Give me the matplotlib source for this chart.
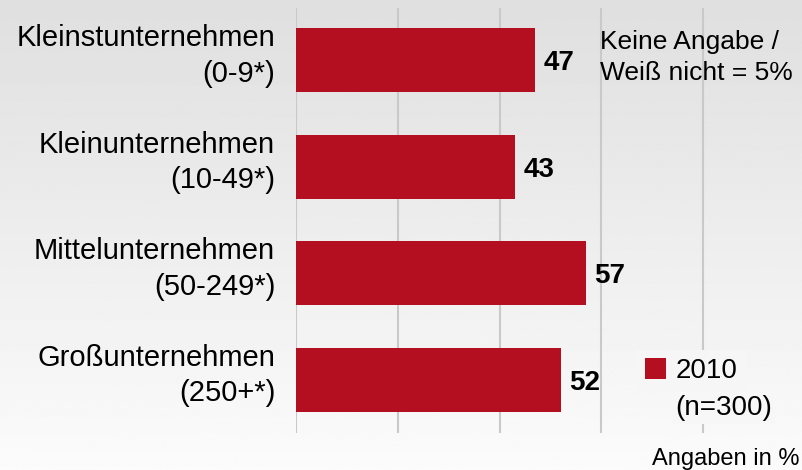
import numpy as np
import matplotlib
matplotlib.use("Agg")
import matplotlib.pyplot as plt
from matplotlib.transforms import ScaledTranslation

plt.rcParams["font.family"] = ["Liberation Sans", "DejaVu Sans"]

CATEGORIES = ["Kleinstunternehmen\n(0-9*)", "Kleinunternehmen\n(10-49*)",
              "Mittelunternehmen\n(50-249*)", "Großunternehmen\n(250+*)"]
VALUES = [47, 43, 57, 52]
SERIES_LABEL = "2010"
SERIES_NOTE = "(n=300)"
NOTE = "Keine Angabe /\nWeiß nicht = 5%"
UNIT = "Angaben in %"
GRID_TICKS = [0, 20, 40, 60, 80]

BAR_COLOR = "#B30F20"
GRID_COLOR = "#c9c9c9"
BG_TOP, BG_BOTTOM = 0.875, 0.985


def bg_grey(ypix):
    # grey level of the background gradient at a given pixel row
    g = BG_TOP + (BG_BOTTOM - BG_TOP) * ypix / 470
    return (g, g, g)


fig = plt.figure(figsize=(8.02, 4.70), dpi=100)

# background gradient (light grey at top -> almost white at bottom)
bg = fig.add_axes([0, 0, 1, 1], zorder=-10)
grad = np.linspace(BG_TOP, BG_BOTTOM, 256).reshape(-1, 1)
bg.imshow(grad, cmap="gray", vmin=0, vmax=1, aspect="auto", extent=[0, 1, 0, 1])
bg.set_axis_off()

ax = fig.add_axes([296 / 802, 1 - 433 / 470, 1 - 296 / 802, (433 - 8) / 470])
ax.patch.set_alpha(0)
y = np.arange(len(CATEGORIES))
ax.barh(y, VALUES, height=0.6, color=BAR_COLOR, zorder=3, label=SERIES_LABEL)
for yi, v in zip(y, VALUES):
    ax.annotate(str(v), (v, yi), xytext=(6, 0), textcoords="offset points",
                ha="left", va="center_baseline", fontsize=20, fontweight="bold", zorder=4)

ax.set_xlim(0, 99.4)
ax.set_ylim(3.5, -0.49)
ax.set_xticks(GRID_TICKS)
ax.set_xticklabels([])
ax.grid(axis="x", color=GRID_COLOR, linewidth=1.5, zorder=0)
ax.tick_params(axis="both", length=0)
ax.tick_params(axis="y", pad=15)
ax.set_yticks(y)
ax.set_yticklabels(CATEGORIES, fontsize=21, ha="right", linespacing=1.35)
shift = ScaledTranslation(0, 8 / 72, fig.dpi_scale_trans)
for lab in ax.get_yticklabels():
    lab.set_transform(lab.get_transform() + shift)
for s in ax.spines.values():
    s.set_visible(False)

leg = ax.legend(loc="upper left", bbox_to_anchor=(637 / 802, 1 - 350 / 470),
                bbox_transform=fig.transFigure, fontsize=20, frameon=True,
                facecolor=bg_grey(375), edgecolor="none", framealpha=1,
                handlelength=0.75, handleheight=0.75, handletextpad=0.35,
                borderpad=0.3, borderaxespad=0, fancybox=False)

fig.text(675 / 802, 1 - 415 / 470, SERIES_NOTE, fontsize=20, ha="left", va="baseline",
         bbox=dict(facecolor=bg_grey(405), edgecolor="none", pad=2))
fig.text(600 / 802, 1 - 30 / 470, NOTE, fontsize=19, ha="left", va="top", linespacing=1.37)
fig.text(800 / 802, 1 - 465 / 470, UNIT, fontsize=17, ha="right", va="baseline")

fig.savefig("out.png", dpi=100)
